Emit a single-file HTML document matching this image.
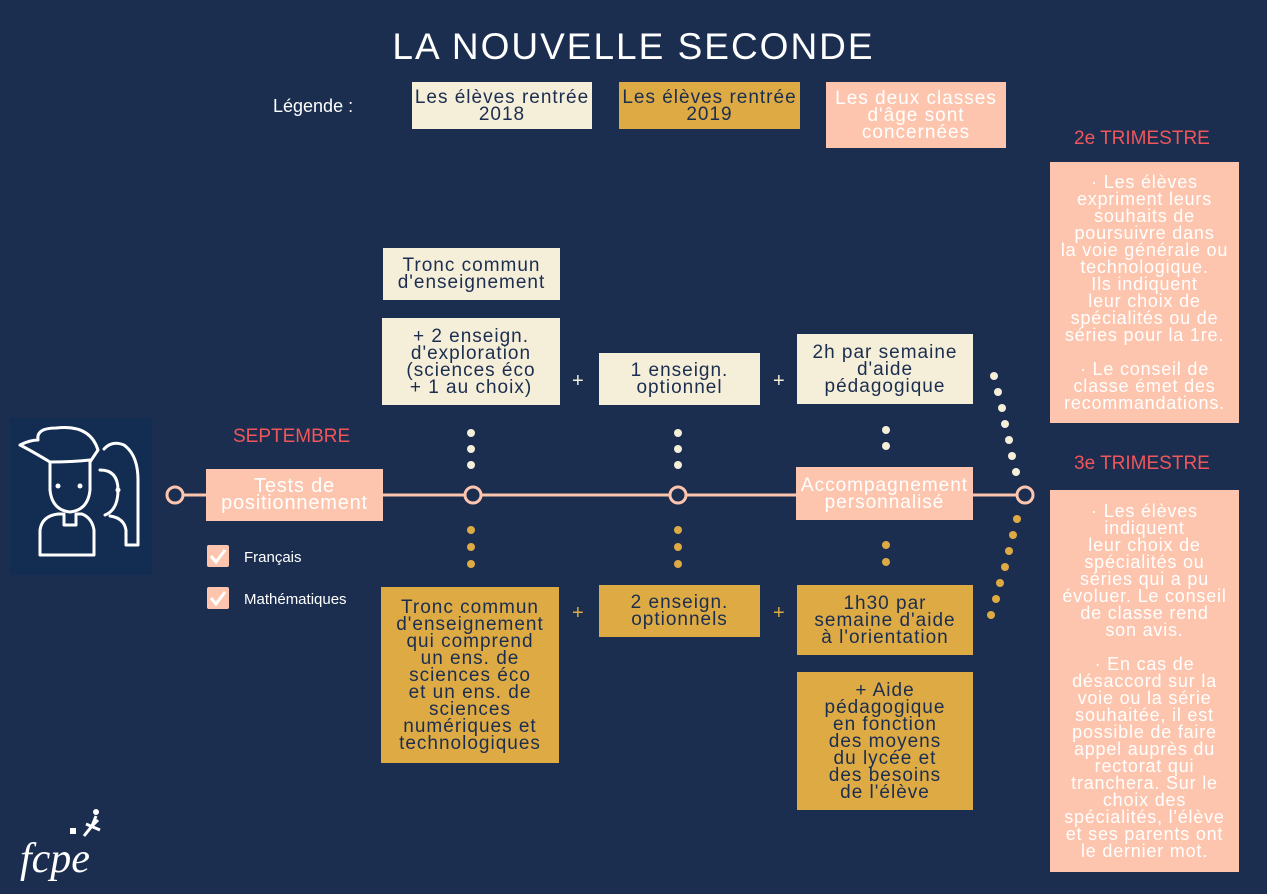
<!DOCTYPE html>
<html><head><meta charset="utf-8"><style>
*{margin:0;padding:0;box-sizing:border-box}
body{width:1267px;height:894px;background:#1b2e50;position:relative;overflow:hidden;font-family:"Liberation Sans",sans-serif}
.b{position:absolute;display:flex;flex-direction:column;justify-content:center;align-items:center;text-align:center;font-size:19px;line-height:17px;letter-spacing:1px;white-space:nowrap}
.c{background:#f5eed8;color:#1b2e50}
.g{background:#ddaa44;color:#1b2e50}
.p{background:#fdc5ae;color:#fff}
.t{position:absolute;color:#f0565a;font-size:19px}
.w{position:absolute;color:#fff}
.plus{position:absolute;font-size:20px}
.r{font-size:18px;letter-spacing:0.8px}
</style></head><body>
<div class="w" style="left:0;width:1267px;top:26px;text-align:center;font-size:37px;letter-spacing:2px">LA NOUVELLE SECONDE</div>
<div class="w" style="left:273px;top:96px;font-size:18px">Légende :</div>
<div class="b c" style="left:412px;top:82px;width:180px;height:47px">Les élèves rentrée<br>2018</div>
<div class="b g" style="left:619px;top:82px;width:181px;height:47px">Les élèves rentrée<br>2019</div>
<div class="b p" style="left:826px;top:82px;width:180px;height:66px">Les deux classes<br>d'âge sont<br>concernées</div>

<svg style="position:absolute;left:0;top:0" width="1267" height="894">
<rect x="10" y="418" width="142" height="157" fill="#122c52"/>
<g fill="none" stroke="#fff" stroke-width="3" stroke-linejoin="round" stroke-linecap="round">
<path d="M104 449 Q112 440 124 445 Q138 455 138 480 L138 545 L126 545 L126 530 Q124 518 110 516"/>
<path d="M100 470 Q118 470 118 490 Q118 510 105 515"/>
<path d="M40 555 L40 530 Q42 516 58 514 L64 514 L64 525 L76 525 L76 514 L82 514 Q92 518 94 530 L94 555 Z"/>
<path d="M50 462 L50 490 Q52 510 70 512 Q88 510 90 490 L90 460 Q72 462 50 462 Z"/>
<path d="M50 462 Q30 450 20 445 Q30 440 38 440 Q36 428 56 428 Q90 424 98 450 L90 462"/>
</g>
<circle cx="58" cy="486" r="2.5" fill="#fff"/><circle cx="80" cy="486" r="2.5" fill="#fff"/><circle cx="118" cy="490" r="2.5" fill="#fff"/>
<line x1="175" y1="495" x2="1025" y2="495" stroke="#fdc5ae" stroke-width="3"/>
<g fill="#1b2e50" stroke="#fdc5ae" stroke-width="3">
<circle cx="175" cy="495" r="8"/><circle cx="473" cy="495" r="8"/><circle cx="678" cy="495" r="8"/><circle cx="1025" cy="495" r="8"/>
</g>
<g fill="#f5eed8">
<circle cx="471" cy="433" r="4"/><circle cx="471" cy="449" r="4"/><circle cx="471" cy="465" r="4"/>
<circle cx="678" cy="433" r="4"/><circle cx="678" cy="449" r="4"/><circle cx="678" cy="465" r="4"/>
<circle cx="886" cy="430" r="4"/><circle cx="886" cy="446" r="4"/>
<circle cx="994" cy="376" r="4"/><circle cx="998" cy="392" r="4"/><circle cx="1002" cy="408" r="4"/><circle cx="1005" cy="424" r="4"/><circle cx="1009" cy="440" r="4"/><circle cx="1012" cy="456" r="4"/><circle cx="1016" cy="472" r="4"/>
</g>
<g fill="#ddaa44">
<circle cx="471" cy="530" r="4"/><circle cx="471" cy="547" r="4"/><circle cx="471" cy="564" r="4"/>
<circle cx="678" cy="530" r="4"/><circle cx="678" cy="547" r="4"/><circle cx="678" cy="564" r="4"/>
<circle cx="886" cy="545" r="4"/><circle cx="886" cy="562" r="4"/>
<circle cx="1017" cy="519" r="4"/><circle cx="1013" cy="535" r="4"/><circle cx="1009" cy="551" r="4"/><circle cx="1005" cy="567" r="4"/><circle cx="1000" cy="583" r="4"/><circle cx="996" cy="599" r="4"/><circle cx="991" cy="615" r="4"/>
</g>
<rect x="207" y="545" width="22" height="22" rx="2" fill="#fdc5ae"/>
<rect x="207" y="587" width="22" height="22" rx="2" fill="#fdc5ae"/>
<path d="M211 556 L216 562 L225 550 M211 598 L216 604 L225 592" fill="none" stroke="#fff" stroke-width="3"/>
<text x="20" y="872" fill="#fff" font-family="Liberation Serif,serif" font-style="italic" font-size="42">fcpe</text>
<path d="M84 836 L92 826 L98 820 M86 824 L100 830 M92 826 L96 816" stroke="#fff" stroke-width="3" fill="none"/>
<circle cx="96" cy="812" r="3" fill="#fff"/>
<rect x="70" y="828" width="6" height="6" fill="#fff"/>
</svg>

<div class="t" style="left:233px;top:426px">SEPTEMBRE</div>
<div class="b p" style="left:206px;top:469px;width:177px;height:52px;font-size:20px;letter-spacing:0.8px">Tests de<br>positionnement</div>
<div class="w" style="left:244px;top:549px;font-size:15px">Français</div>
<div class="w" style="left:244px;top:591px;font-size:15px">Mathématiques</div>

<div class="b c" style="left:383px;top:248px;width:177px;height:52px">Tronc commun<br>d'enseignement</div>
<div class="b c" style="left:382px;top:318px;width:178px;height:87px">+ 2 enseign.<br>d'exploration<br>(sciences éco<br>+ 1 au choix)</div>
<div class="b c" style="left:599px;top:353px;width:161px;height:52px">1 enseign.<br>optionnel</div>
<div class="b c" style="left:797px;top:334px;width:176px;height:70px">2h par semaine<br>d'aide<br>pédagogique</div>
<div class="plus" style="left:572px;top:370px;color:#f5eed8">+</div>
<div class="plus" style="left:773px;top:370px;color:#f5eed8">+</div>
<div class="b p" style="left:796px;top:467px;width:177px;height:53px">Accompagnement<br>personnalisé</div>

<div class="b g" style="left:381px;top:587px;width:178px;height:176px">Tronc commun<br>d'enseignement<br>qui comprend<br>un ens. de<br>sciences éco<br>et un ens. de<br>sciences<br>numériques et<br>technologiques</div>
<div class="b g" style="left:599px;top:585px;width:161px;height:52px">2 enseign.<br>optionnels</div>
<div class="b g" style="left:797px;top:585px;width:176px;height:70px">1h30 par<br>semaine d'aide<br>à l'orientation</div>
<div class="b g" style="left:797px;top:672px;width:176px;height:138px">+ Aide<br>pédagogique<br>en fonction<br>des moyens<br>du lycée et<br>des besoins<br>de l'élève</div>
<div class="plus" style="left:572px;top:602px;color:#ddaa44">+</div>
<div class="plus" style="left:773px;top:602px;color:#ddaa44">+</div>

<div class="t" style="left:1074px;top:128px">2e TRIMESTRE</div>
<div class="b p r" style="left:1050px;top:162px;width:189px;height:261px">· Les élèves<br>expriment leurs<br>souhaits de<br>poursuivre dans<br>la voie générale ou<br>technologique.<br>Ils indiquent<br>leur choix de<br>spécialités ou de<br>séries pour la 1re.<br><br>· Le conseil de<br>classe émet des<br>recommandations.</div>
<div class="t" style="left:1074px;top:453px">3e TRIMESTRE</div>
<div class="b p r" style="left:1050px;top:490px;width:189px;height:382px">· Les élèves<br>indiquent<br>leur choix de<br>spécialités ou<br>séries qui a pu<br>évoluer. Le conseil<br>de classe rend<br>son avis.<br><br>· En cas de<br>désaccord sur la<br>voie ou la série<br>souhaitée, il est<br>possible de faire<br>appel auprès du<br>rectorat qui<br>tranchera. Sur le<br>choix des<br>spécialités, l'élève<br>et ses parents ont<br>le dernier mot.</div>
</body></html>
